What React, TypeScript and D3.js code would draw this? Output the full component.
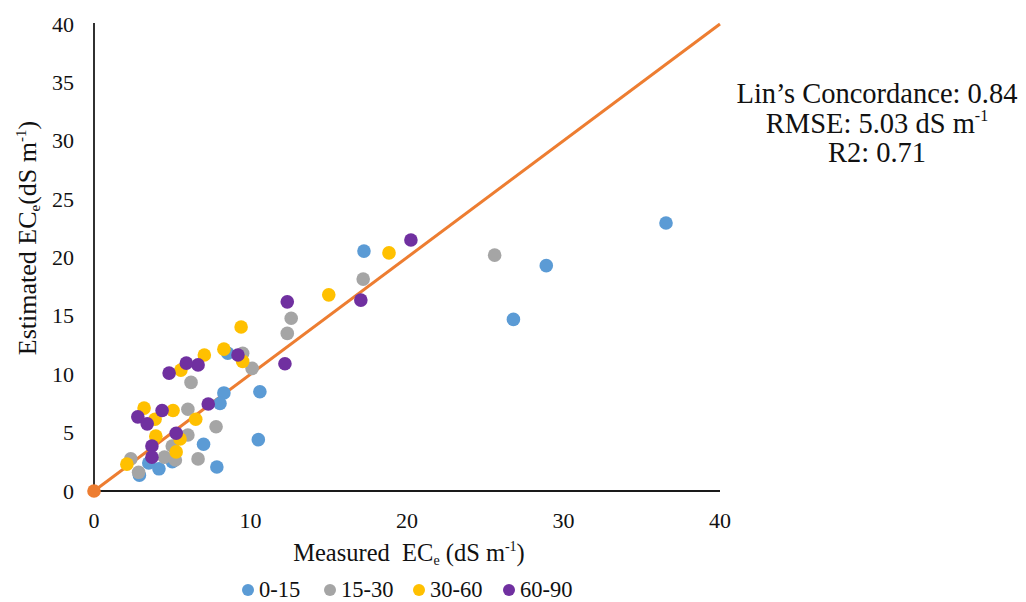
import React from "react";
import * as d3 from "d3";

const seriesNames = ["0-15", "15-30", "30-60", "60-90"];
const seriesColors = ["#5B9BD5", "#A5A5A5", "#FFC000", "#7030A0"];

const measured015 = [36.55, 17.25, 28.9, 26.8, 10.6, 8.3, 8.05, 10.5, 7.0, 7.85, 4.15, 5.0, 3.5, 2.9, 8.55];
const estimated015 = [22.95, 20.55, 19.3, 14.7, 8.5, 8.4, 7.5, 4.4, 4.0, 2.05, 1.9, 2.5, 2.4, 1.35, 11.8];

const measured1530 = [25.6, 17.2, 12.6, 12.35, 9.5, 10.1, 6.2, 6.0, 7.8, 6.0, 5.0, 4.5, 5.2, 6.65, 2.35, 2.85];
const estimated1530 = [20.2, 18.15, 14.8, 13.5, 11.8, 10.5, 9.3, 7.0, 5.5, 4.8, 3.85, 2.9, 2.65, 2.75, 2.75, 1.6];

const measured3060 = [18.85, 15.0, 9.4, 8.3, 7.05, 9.5, 5.55, 5.05, 3.2, 3.9, 6.5, 3.95, 5.5, 5.25, 2.1];
const estimated3060 = [20.4, 16.8, 14.05, 12.15, 11.65, 11.1, 10.35, 6.9, 7.1, 6.15, 6.15, 4.7, 4.45, 3.35, 2.3];

const measured6090 = [20.25, 17.05, 12.35, 12.2, 9.2, 6.65, 5.9, 4.8, 7.3, 4.35, 2.8, 3.4, 5.25, 3.7, 3.7];
const estimated6090 = [21.5, 16.35, 16.2, 10.9, 11.65, 10.8, 10.95, 10.1, 7.45, 6.9, 6.35, 5.75, 4.95, 3.85, 2.9];

const lineX = [0, 40];
const lineY = [0, 40];

const xTicks = [0, 10, 20, 30, 40];
const yTicks = [0, 5, 10, 15, 20, 25, 30, 35, 40];

const statLines = ["Lin\u2019s Concordance: 0.84", "RMSE: 5.03 dS m", "R2: 0.71"];

export default function App() {
  const W = 1026;
  const H = 602;
  const x = d3.scaleLinear().domain([0, 40]).range([94, 720]);
  const y = d3.scaleLinear().domain([0, 40]).range([491, 24]);
  const font = "'Liberation Serif', 'Times New Roman', serif";

  const series = [
    { xs: measured015, ys: estimated015 },
    { xs: measured1530, ys: estimated1530 },
    { xs: measured3060, ys: estimated3060 },
    { xs: measured6090, ys: estimated6090 },
  ];

  const linePath = d3
    .line<number>()
    .x((_, i) => x(lineX[i]))
    .y((_, i) => y(lineY[i]))(lineX) as string;

  const legendX = [248, 330, 419, 509];

  return (
    <svg
      width={W}
      height={H}
      style={{ position: "absolute", left: 0, top: 0, background: "#fff" }}
      fontFamily={font}
    >
      {/* axes */}
      <line x1={x(0)} x2={x(0)} y1={y(40) - 1} y2={y(0)} stroke="#1a1a1a" strokeWidth={1.8} />
      <line x1={x(0)} x2={x(40)} y1={y(0)} y2={y(0)} stroke="#1a1a1a" strokeWidth={1.8} />

      {/* tick labels */}
      {yTicks.map((t) => (
        <text key={"y" + t} x={74} y={y(t) + 7.5} fontSize={22} textAnchor="end" fill="#111">
          {t}
        </text>
      ))}
      {xTicks.map((t) => (
        <text key={"x" + t} x={x(t)} y={528} fontSize={22} textAnchor="middle" fill="#111">
          {t}
        </text>
      ))}

      {/* 1:1 line */}
      <path d={linePath} stroke="#ED7D31" strokeWidth={3} fill="none" />
      <circle cx={x(0)} cy={y(0)} r={6.8} fill="#ED7D31" />

      {/* points */}
      {series.map((s, si) =>
        s.xs.map((v, i) => (
          <circle key={si + "-" + i} cx={x(v)} cy={y(s.ys[i])} r={6.8} fill={seriesColors[si]} />
        ))
      )}

      {/* x title */}
      <text x={409} y={561} fontSize={24.5} textAnchor="middle" fill="#111">
        {"Measured\u00A0\u00A0EC"}
        <tspan fontSize={14} dy={4}>e</tspan>
        <tspan dy={-4}>{"\u00A0(dS m"}</tspan>
        <tspan fontSize={14} dy={-10}>-1</tspan>
        <tspan dy={10}>)</tspan>
      </text>

      {/* y title */}
      <text
        transform={`translate(36,238) rotate(-90)`}
        fontSize={26}
        textAnchor="middle"
        fill="#111"
      >
        {"Estimated EC"}
        <tspan fontSize={15} dy={4}>e</tspan>
        <tspan dy={-4}>{"(dS m"}</tspan>
        <tspan fontSize={15} dy={-10}>-1</tspan>
        <tspan dy={10}>)</tspan>
      </text>

      {/* legend */}
      {seriesNames.map((n, i) => (
        <g key={n}>
          <circle cx={legendX[i]} cy={590} r={6} fill={seriesColors[i]} />
          <text x={legendX[i] + 11} y={597} fontSize={22.5} fill="#111">
            {n}
          </text>
        </g>
      ))}

      {/* stats */}
      <text x={877} y={103} fontSize={28.5} textAnchor="middle" fill="#111">
        {statLines[0]}
      </text>
      <text x={877} y={133} fontSize={28.5} textAnchor="middle" fill="#111">
        {statLines[1]}
        <tspan fontSize={16} dy={-12}>-1</tspan>
      </text>
      <text x={877} y={162} fontSize={28.5} textAnchor="middle" fill="#111">
        {statLines[2]}
      </text>
    </svg>
  );
}
